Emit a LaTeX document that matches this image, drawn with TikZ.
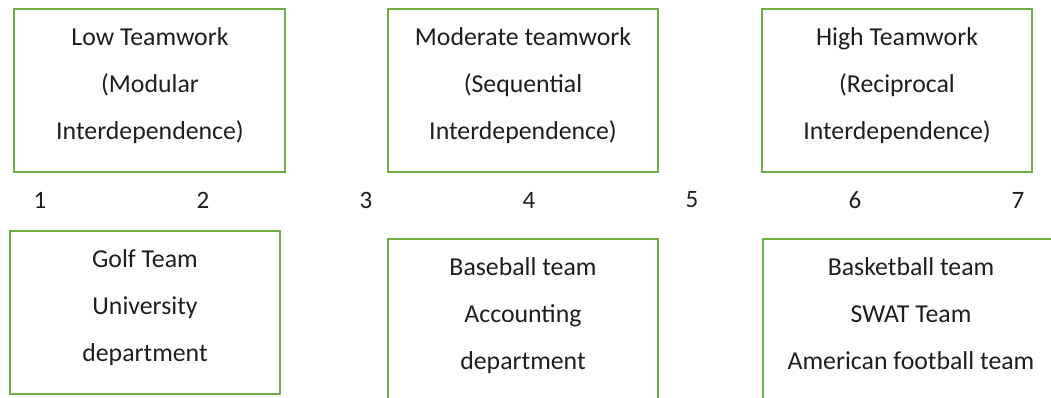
\documentclass[tikz,border=0pt]{standalone}
\usepackage{fontspec}
\setmainfont{Carlito}
\usepackage{tikz}
\usetikzlibrary{positioning}
\definecolor{borda}{RGB}{112, 173, 71}
\definecolor{texto}{RGB}{30, 30, 30}

\begin{document}
\begin{tikzpicture}[x=1pt, y=-1pt,
    caixa/.style={draw=borda, line width=2.8pt, minimum height=163pt, inner sep=0pt},
    rotulo/.style={align=center, text=texto, font=\fontsize{25.8}{47}\selectfont},
    numero/.style={text=texto, font=\fontsize{25}{30}\selectfont}]
  \useasboundingbox (0,0) rectangle (1051,398); % tamanho da figura
  \clip (0,0) rectangle (1051,398);

  % caixas de cima
  \node[caixa, minimum width=271pt] (baixo) at (149.5,90.5) {};
  \node[caixa, minimum width=270pt] (moderado) at (523,90.5) {};
  \node[caixa, minimum width=270pt] (alto) at (897,90.5) {};
  \node[rotulo] (baixotxt) at (150,86) {Low Teamwork\\(Modular\\Interdependence)};
  \node[rotulo] (moderadotxt) at (523,86) {Moderate teamwork\\(Sequential\\Interdependence)};
  \node[rotulo] (altotxt) at (897,86) {High Teamwork\\(Reciprocal\\Interdependence)};

  % escala de 1 a 7
  \foreach \n in {1,...,7}
    \node[numero] (n\n) at ({40+163*(\n-1)},200) {\n};

  % caixas de baixo (exemplos)
  \node[caixa, minimum width=270pt] (golfe) at (145,312.5) {};
  \node[caixa, minimum width=270pt] (beisebol) at (523,320.5) {};
  \node[caixa, minimum width=296pt] (basquete) at (911,320.5) {};
  \node[rotulo] (golfetxt) at (145,308) {Golf Team\\University\\department};
  \node[rotulo] (beisebotxt) at (523,316) {Baseball team\\Accounting\\department};
  \node[rotulo] (basquetetxt) at (911,314) {Basketball team\\SWAT Team\\American football team};
\end{tikzpicture}
\end{document}
